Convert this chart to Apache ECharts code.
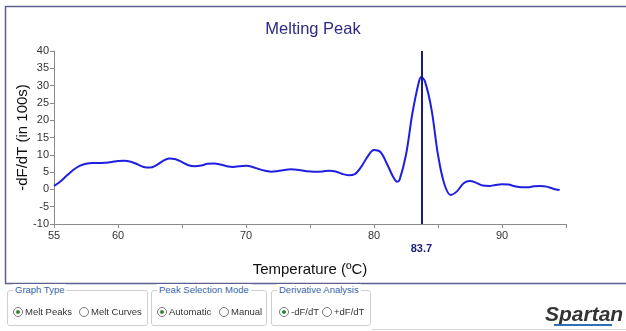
<!DOCTYPE html>
<html>
<head>
<meta charset="utf-8">
<script src="https://cdn.jsdelivr.net/npm/echarts@6/dist/echarts.min.js"></script>
<style>
  html, body { margin: 0; padding: 0; background: #fff; }
  #wrap { position: relative; width: 626px; height: 331px; overflow: hidden; font-family: "Liberation Sans", Arial, sans-serif; }
  #melt_chart { position: absolute; left: 0; top: 0; width: 626px; height: 331px; }
  .box { position: absolute; top: 290px; height: 36px; border: 1px solid #cfcfcf; border-radius: 3px; box-sizing: border-box; }
  .box .lg { position: absolute; top: -7px; left: 5px; padding: 0 2px; background: #fff; color: #3565a8; font-size: 9.5px; line-height: 12px; }
  .opt { position: absolute; top: 15px; font-size: 9.5px; line-height: 12px; color: #333; white-space: nowrap; }
  .rd { display: inline-block; width: 8px; height: 8px; border: 1px solid #7a7a7a; border-radius: 50%; vertical-align: -2px; margin-right: 2px; position: relative; background: #fff; }
  .rd.on:after { content: ""; position: absolute; left: 2px; top: 2px; width: 4px; height: 4px; border-radius: 50%; background: #2f8a2f; }
  #logo { position: absolute; left: 545px; top: 302px; font-size: 21px; font-weight: bold; font-style: italic; color: #333; }
  #logo_ul { position: absolute; left: 554px; top: 324px; width: 58px; height: 2px; background: #2f6fb5; }
  #bottom_line { position: absolute; left: 372px; top: 329px; width: 254px; height: 1px; background: #d8d8d8; }
</style>
</head>
<body>
<div id="wrap">
  <div id="melt_chart"></div>
  <div class="box" style="left:7px; width:141px;">
    <span class="lg">Graph Type</span>
    <span class="opt" style="left:5px;"><span class="rd on"></span>Melt Peaks</span>
    <span class="opt" style="left:71px;"><span class="rd"></span>Melt Curves</span>
  </div>
  <div class="box" style="left:151px; width:116px;">
    <span class="lg">Peak Selection Mode</span>
    <span class="opt" style="left:5px;"><span class="rd on"></span>Automatic</span>
    <span class="opt" style="left:67px;"><span class="rd"></span>Manual</span>
  </div>
  <div class="box" style="left:271px; width:100px;">
    <span class="lg">Derivative Analysis</span>
    <span class="opt" style="left:7px;"><span class="rd on"></span>-dF/dT</span>
    <span class="opt" style="left:50px;"><span class="rd"></span>+dF/dT</span>
  </div>
  <div id="logo">Spartan</div>
  <div id="logo_ul"></div>
  <div id="bottom_line"></div>
</div>
<script>
// 温度 (°C)
var temps = [55.0, 55.5, 56.0, 56.5, 57.0, 57.5, 58.0, 58.5, 59.0, 59.5,
    60.0, 60.5, 61.0, 61.5, 62.0, 62.5, 63.0, 63.5, 64.0, 64.5,
    65.0, 65.5, 66.0, 66.5, 67.0, 67.5, 68.0, 68.5, 69.0, 69.5,
    70.0, 70.5, 71.0, 71.5, 72.0, 72.5, 73.0, 73.5, 74.0, 74.5,
    75.0, 75.5, 76.0, 76.5, 77.0, 77.5, 78.0, 78.5, 79.0, 79.5,
    80.0, 80.5, 81.0, 81.5, 81.8, 82.0, 82.5, 83.0, 83.5, 83.7,
    84.0, 84.5, 85.0, 85.5, 86.0, 86.5, 87.0, 87.5, 88.0, 88.5,
    89.0, 89.5, 90.0, 90.5, 91.0, 91.5, 92.0, 92.5, 93.0, 93.5,
    94.0, 94.5];
// -dF/dT (in 100s)
var dfdt = [1.0, 2.3, 4.0, 5.6, 6.8, 7.4, 7.6, 7.6, 7.7, 7.9,
    8.2, 8.3, 8.0, 7.3, 6.5, 6.3, 7.0, 8.2, 8.9, 8.7,
    7.9, 7.0, 6.7, 6.9, 7.4, 7.5, 7.2, 6.7, 6.5, 6.7,
    6.8, 6.5, 5.9, 5.4, 5.1, 5.3, 5.6, 5.8, 5.7, 5.4,
    5.2, 5.1, 5.2, 5.4, 5.2, 4.5, 4.1, 4.4, 6.5, 9.5,
    11.4, 10.8, 7.5, 3.6, 2.2, 2.8, 10.0, 22.0, 31.0, 32.5,
    31.0, 23.0, 10.0, 1.5, -1.6, -0.5, 1.8, 2.4, 1.9, 1.1,
    1.0, 1.3, 1.5, 1.4, 0.9, 0.6, 0.6, 0.9, 1.0, 0.8,
    0.2, -0.2];
var peakTemp = 83.7;
var xLabelValues = [55, 60, 70, 80, 90];

var myChart = echarts.init(document.getElementById('melt_chart'));
var lineData = [];
for (var i = 0; i < temps.length; i++) {
    lineData.push([temps[i], dfdt[i]]);
}
var option = {
    backgroundColor: '#fff',
    animation: false,
    textStyle: {fontFamily: '"Liberation Sans", Arial, sans-serif'},
    title: {
        text: 'Melting Peak', left: 'center', top: 16,
        textStyle: {color: '#2a2a80', fontSize: 16.5, fontWeight: 'normal'}
    },
    graphic: [
        {type: 'rect', shape: {x: 5.5, y: 6.5, width: 640, height: 277}, style: {fill: 'none', stroke: '#5f5f90', lineWidth: 1.5}, silent: true}
    ],
    grid: {left: 54, right: 60, top: 51, bottom: 107},
    xAxis: {
        type: 'value', min: 55, max: 95, interval: 5,
        name: 'Temperature (ºC)', nameLocation: 'middle', nameGap: 38,
        nameTextStyle: {color: '#111', fontSize: 15},
        axisLine: {show: true, onZero: false, lineStyle: {color: '#8a8a8a'}},
        axisTick: {show: true, length: 4, lineStyle: {color: '#8a8a8a'}},
        axisLabel: {
            color: '#333', fontSize: 11, margin: 6, showMaxLabel: true,
            formatter: function (v) {
                return xLabelValues.indexOf(v) >= 0 ? String(v) : '';
            }
        },
        splitLine: {show: false}
    },
    yAxis: {
        type: 'value', min: -10, max: 40, interval: 5,
        name: '-dF/dT (in 100s)', nameLocation: 'middle', nameGap: 24, nameRotate: 90,
        nameMoveOverlap: false,
        nameTextStyle: {color: '#111', fontSize: 15},
        axisLine: {show: true, onZero: false, lineStyle: {color: '#8a8a8a'}},
        axisTick: {show: true, length: 4, lineStyle: {color: '#8a8a8a'}},
        axisLabel: {color: '#333', fontSize: 11, margin: 5},
        splitLine: {show: false}
    },
    series: [
        {
            name: 'Melt Peak',
            type: 'line',
            data: lineData,
            smooth: 0.35,
            symbol: 'none',
            lineStyle: {color: '#1f1fe0', width: 2},
            markLine: {
                silent: true, symbol: 'none',
                lineStyle: {color: '#1c1c7c', width: 2, type: 'solid'},
                label: {
                    show: true, position: 'start', distance: 19,
                    formatter: String(peakTemp),
                    color: '#1c1c7c', fontSize: 11, fontWeight: 'bold'
                },
                data: [{xAxis: peakTemp}]
            }
        }
    ]
};
myChart.setOption(option);
</script>
</body>
</html>
